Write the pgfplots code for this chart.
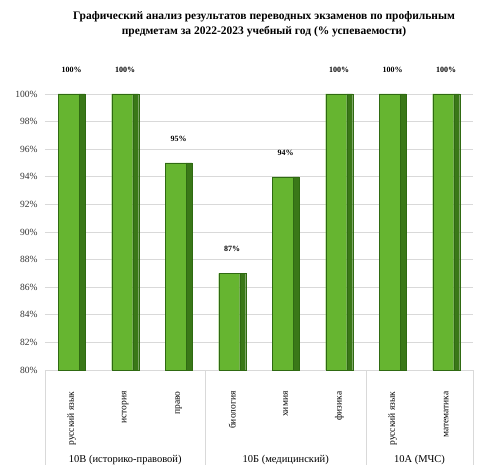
\documentclass[border=0pt]{standalone}
\usepackage{fontspec}
\setmainfont{Liberation Serif}
\usepackage{pgfplots}
\pgfplotsset{compat=1.18}
\definecolor{barfront}{HTML}{66B530}
\definecolor{barside}{HTML}{3A7818}
\definecolor{baredge}{HTML}{2F6A12}
\definecolor{gridc}{HTML}{D9D9D9}
\begin{document}
\begin{tikzpicture}
\path[use as bounding box] (0,0) rectangle (483pt,465pt);
\begin{axis}[
  at={(45pt,95pt)}, anchor=south west,
  scale only axis, width=428pt, height=276pt,
  xmin=-0.5, xmax=7.5, ymin=80, ymax=100,
  ytick={80,82,...,100},
  yticklabel={\pgfmathprintnumber{\tick}\%},
  /pgf/number format/assume math mode=true,
  yticklabel style={font=\fontsize{9.5}{11}\selectfont, color=black!80, xshift=-4pt},
  ymajorgrids, grid style={gridc, line width=0.6pt},
  axis line style={gridc},
  axis x line*=bottom, axis y line*=left,
  y axis line style={draw=none},
  major tick length=0pt,
  xtick={0,...,7},
  xticklabels={русский язык, история, право, биология, химия, физика, русский язык, математика},
  xticklabel style={rotate=90, anchor=east, font=\fontsize{9.5}{11}\selectfont},
  xticklabel shift=18pt,
  extra x ticks={-0.5,2.5,5.5,7.5},
  extra x tick labels={},
  extra x tick style={major tick length=95pt, tick align=outside, tick style={gridc, line width=0.6pt}},
  ybar, bar width=27pt,
  clip=false,
]
\addplot[draw=baredge, line width=0.4pt, fill=barfront, bar width=21pt, bar shift=-3pt,
  nodes near coords={\pgfmathprintnumber{\pgfplotspointmeta}\%},
  nodes near coords style={font=\bfseries\fontsize{8}{9}\selectfont, yshift=18pt, xshift=3pt}]
  coordinates {(0,100) (1,100) (2,95) (3,87) (4,94) (5,100) (6,100) (7,100)};
\addplot[draw=baredge, line width=0.4pt, fill=barside, bar width=6pt, bar shift=10.5pt]
  coordinates {(0,100) (1,100) (2,95) (3,87) (4,94) (5,100) (6,100) (7,100)};
\node[font=\fontsize{10.5}{12}\selectfont] at (axis cs:1,80) [yshift=-90pt] {10В (историко-правовой)};
\node[font=\fontsize{10.5}{12}\selectfont] at (axis cs:4,80) [yshift=-90pt] {10Б (медицинский)};
\node[font=\fontsize{10.5}{12}\selectfont] at (axis cs:6.5,80) [yshift=-90pt] {10А (МЧС)};
\end{axis}
\node[font=\bfseries\fontsize{11.5}{15}\selectfont, align=center] at (264pt,441pt)
  {Графический анализ результатов переводных экзаменов по профильным\\предметам за 2022-2023 учебный год (\% успеваемости)};
\end{tikzpicture}
\end{document}
